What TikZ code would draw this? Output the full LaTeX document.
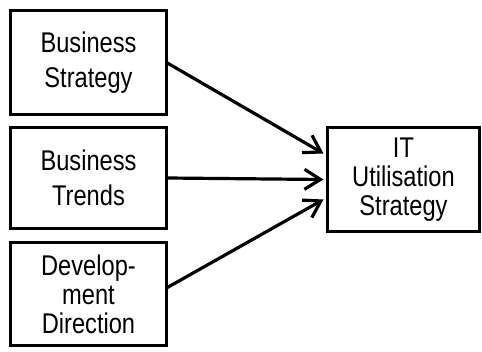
\documentclass[tikz,border=0pt]{standalone}
\usepackage{fontspec}
\setmainfont{Liberation Sans}[FakeStretch=0.83]
\usetikzlibrary{arrows.meta}
\begin{document}
\begin{tikzpicture}[x=1pt,y=-1pt,
  box/.style={draw=black,line width=3.2pt,inner sep=0pt,outer sep=0pt,
    align=center,fill=white},
  wide/.style={font=\fontsize{28.5}{35}\selectfont},
  tight/.style={font=\fontsize{28.5}{29}\selectfont},
  link/.style={line width=3.2pt,-{Straight Barb[length=16pt,width=20pt,line width=3.2pt]}}]
\useasboundingbox[fill=white] (0,0) rectangle (482,352);
% input boxes on the left
\node[box,wide,minimum width=156pt,minimum height=104pt] (bs) at (88.5,62.5) {Business\\Strategy};
\node[box,wide,minimum width=156pt,minimum height=101pt] (bt) at (88.5,178) {Business\\Trends};
\node[box,tight,minimum width=156pt,minimum height=103pt] (dd) at (88.5,294) {Develop-\\ment\\Direction};
% resulting strategy box
\node[box,tight,minimum width=152pt,minimum height=104pt] (it) at (403.5,179.5) {IT\\Utilisation\\Strategy};
% arrow end points just left of the strategy box
\coordinate (e1) at ([xshift=-4pt,yshift=26pt]it.west);
\coordinate (e2) at ([xshift=-4pt]it.west);
\coordinate (e3) at ([xshift=-4pt,yshift=-20pt]it.west);
\coordinate (s3) at ([yshift=6pt]dd.east);
\draw[link] (bs.east) -- (e1);
\draw[link] (bt.east) -- (e2);
\draw[link] (s3) -- (e3);
\end{tikzpicture}
\end{document}
